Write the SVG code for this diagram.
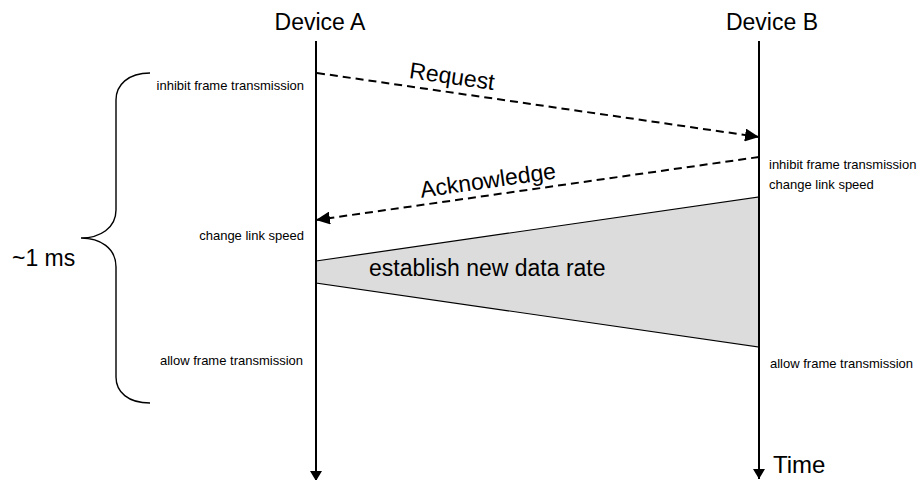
<svg xmlns="http://www.w3.org/2000/svg" width="921" height="480" viewBox="0 0 921 480">
  <style>
    .big { font-family: "Liberation Sans", Arial, sans-serif; font-size: 23px; fill: #000; }
    .small { font-family: "Liberation Sans", Arial, sans-serif; font-size: 13px; fill: #000; }
    .life { stroke: #000; stroke-width: 2; fill: none; }
    .msg { stroke: #000; stroke-width: 2; fill: none; stroke-dasharray: 8 5; }
    .brace { stroke: #000; stroke-width: 1.4; fill: none; }
  </style>
  <defs>
    <marker id="arrow" markerUnits="userSpaceOnUse" markerWidth="15" markerHeight="13" refX="14" refY="6.5" orient="auto">
      <path d="M0,0 L14,6.5 L0,13 Z" fill="#000" stroke="none"/>
    </marker>
    <marker id="tarrow" markerUnits="userSpaceOnUse" markerWidth="12" markerHeight="12" refX="10" refY="6" orient="auto">
      <path d="M0,0 L10,6 L0,12 Z" fill="#000" stroke="none"/>
    </marker>
  </defs>
  <rect width="921" height="480" fill="#fff"/>

  <g id="deviceA">
    <text class="big" x="320" y="30" text-anchor="middle">Device A</text>
  </g>
  <g id="deviceB">
    <text class="big" x="772" y="30" text-anchor="middle">Device B</text>
  </g>

  <g id="rate-change">
    <polygon points="316,261 759,197 759,347 316,283" fill="#dcdcdc" stroke="#000" stroke-width="1.2"/>
    <text class="big" x="369" y="276">establish new data rate</text>
  </g>

  <g id="connectors">
    <line class="life" x1="316" y1="41" x2="316" y2="481" marker-end="url(#tarrow)"/>
    <line class="life" x1="759" y1="41" x2="759" y2="479" marker-end="url(#tarrow)"/>
    <line class="msg" x1="317" y1="73" x2="759" y2="137" marker-end="url(#arrow)"/>
    <line class="msg" x1="759" y1="157" x2="316" y2="220" marker-end="url(#arrow)"/>
  </g>

  <g id="labels">
    <text class="big" transform="translate(451,84) rotate(8.2)" text-anchor="middle">Request</text>
    <text class="big" transform="translate(489,188) rotate(-8.1)" text-anchor="middle">Acknowledge</text>
    <text class="big" x="773" y="473" style="font-size:24px">Time</text>
    <text class="small" x="304" y="90" text-anchor="end">inhibit frame transmission</text>
    <text class="small" x="304" y="240" text-anchor="end">change link speed</text>
    <text class="small" x="303" y="365" text-anchor="end">allow frame transmission</text>
    <text class="small" x="769" y="169">inhibit frame transmission</text>
    <text class="small" x="769" y="189">change link speed</text>
    <text class="small" x="770" y="368">allow frame transmission</text>
  </g>

  <g id="duration">
    <path class="brace" d="M150,73 C128,73 116,85 116,100 L116,210 C116,228 100,238 81,238 C100,238 116,248 116,267 L116,377 C116,392 128,403 150,403"/>
    <text class="big" x="12" y="266">~1 ms</text>
  </g>
</svg>
